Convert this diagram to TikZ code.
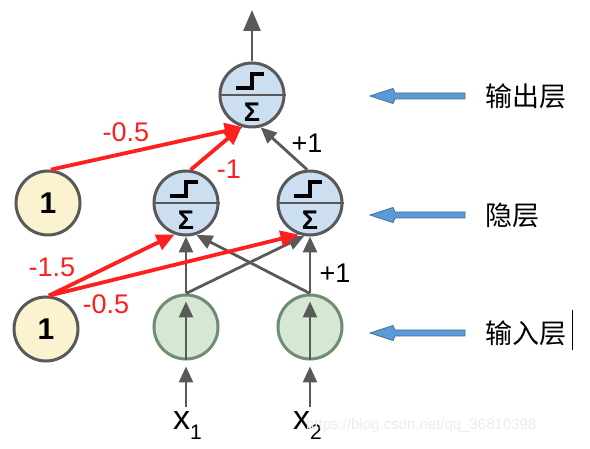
\documentclass[tikz,border=0pt]{standalone}
\usepackage{fontspec}
\setmainfont{Liberation Sans}
\newfontfamily\cjk{Noto Sans CJK SC}
\usetikzlibrary{arrows.meta}
\definecolor{gr}{HTML}{595959}
\definecolor{rd}{HTML}{FF1F1F}
\definecolor{bluefill}{HTML}{CCDFF0}
\definecolor{cream}{HTML}{FBF2CF}
\definecolor{greenfill}{HTML}{D6E7D3}
\definecolor{greenline}{HTML}{6F8C74}
\definecolor{arrowblue}{HTML}{5B9BD5}
\definecolor{arrowedge}{HTML}{41719C}
\begin{document}
\begin{tikzpicture}[x=1pt,y=-1pt,
  neuron/.style={circle, draw=gr, line width=3pt, fill=bluefill, minimum size=64pt, inner sep=0pt},
  bias/.style={circle, draw=gr, line width=3pt, fill=cream, minimum size=64pt, inner sep=0pt, font=\fontsize{30}{30}\selectfont\bfseries},
  inp/.style={circle, draw=greenline, line width=3pt, fill=greenfill, minimum size=64pt, inner sep=0pt},
  garrow/.style={draw=gr, line width=2.8pt, -{Triangle[length=16pt,width=14pt]}},
  rarrow/.style={draw=rd, line width=3.8pt, -{Triangle[length=18pt,width=16pt]}},
  glab/.style={font=\fontsize{27}{27}\selectfont, text=black, inner sep=0pt},
  rlab/.style={font=\fontsize{27}{27}\selectfont, text=rd, inner sep=0pt},
  xlab/.style={font=\fontsize{34}{34}\selectfont, anchor=base west, inner sep=0pt},
  sigma/.style={font=\fontsize{27}{27}\selectfont\bfseries, inner sep=0pt},
  steppath/.style={draw=black, line width=4.5pt},
  layertext/.style={font=\cjk\fontsize{27}{27}\selectfont, anchor=west, inner sep=0pt},
  layerarrow/.style={draw=arrowedge, fill=arrowblue, line width=0.8pt},
]
\fill[white] (0,0) rectangle (590,449);
\useasboundingbox (0,0) rectangle (590,449);

% nodes
\node[neuron] (out) at (252,95) {};
\node[neuron] (h1) at (186,203) {};
\node[neuron] (h2) at (310,203) {};
\node[bias] (b1) at (48,203) {1};
\node[bias] (b2) at (46,329) {1};
\node[inp] (x1) at (186,327) {};
\node[inp] (x2) at (310,327) {};

\foreach \n in {out,h1,h2} {
  \draw[gr, line width=2.2pt] (\n.west) -- (\n.east);
  \begin{scope}[shift={(\n)}]
    \draw[steppath] (-16,-7) -- (0,-7) -- (0,-21) -- (12,-21);
    \node[sigma] at (0,17) {Σ};
  \end{scope}
}

% output arrow
\coordinate (top) at (252,10);
\draw[gr, line width=2.8pt, -{Triangle[length=21pt,width=17pt]}] (out) -- (top);

% input arrows
\coordinate (in1) at (186,407);
\coordinate (in2) at (310,407);
\draw[garrow, shorten >=6pt] (in1) -- (x1.south);
\draw[garrow, shorten >=6pt] (in2) -- (x2.south);
\draw[garrow, shorten >=8pt] (x1.south) -- (x1.north);
\draw[garrow, shorten >=8pt] (x2.south) -- (x2.north);

% gray connections
\draw[garrow] (x1.north) -- (h1.south);
\draw[garrow] (x1.north) -- (h2.-100);
\draw[garrow] (x2.north) -- (h1.-72);
\draw[garrow] (x2.north) -- (h2.south);
\draw[garrow] (h2.95) -- (out.-75);

% red connections
\draw[rarrow] (b1.85) -- (out.-106);
\draw[rarrow] (h1.82) -- (out.-108);
\draw[rarrow] (b2.85) -- (h1.-110);
\draw[rarrow] (b2.85) -- (h2.-110);

% labels
\node[rlab] (l1) at (126,132) {-0.5};
\node[rlab] (l2) at (229,169) {-1};
\node[glab] (l3) at (307,143) {+1};
\node[rlab] (l4) at (52,267) {-1.5};
\node[rlab] (l5) at (106,304) {-0.5};
\node[glab] (l6) at (335,273) {+1};

\node[xlab] (lx1) at (173,430) {x\raisebox{-10pt}{\fontsize{21}{21}\selectfont 1}};
\node[xlab] (lx2) at (293,430) {x\raisebox{-10pt}{\fontsize{21}{21}\selectfont 2}};

% watermark
\node[text=black!7, font=\fontsize{15}{15}\selectfont, anchor=west, inner sep=0pt] (wm) at (306,426) {https://blog.csdn.net/qq\_36810398};

% layer labels with blue arrows
\foreach \y/\nm/\t in {96/lo/输出层, 215/lh/隐层, 333/li/输入层} {
  \node[layertext] (\nm) at (485,\y) {\t};
  \begin{scope}[shift={(0,\y)}]
    \draw[layerarrow] (465,-3) -- (395,-3) -- (393,-7.5) -- (370,0) -- (393,7.5) -- (395,3) -- (465,3) -- cycle;
  \end{scope}
}
\coordinate (cur1) at (572,310);
\coordinate (cur2) at (572,350);
\draw[black, line width=1pt] (cur1) -- (cur2);
\end{tikzpicture}
\end{document}
